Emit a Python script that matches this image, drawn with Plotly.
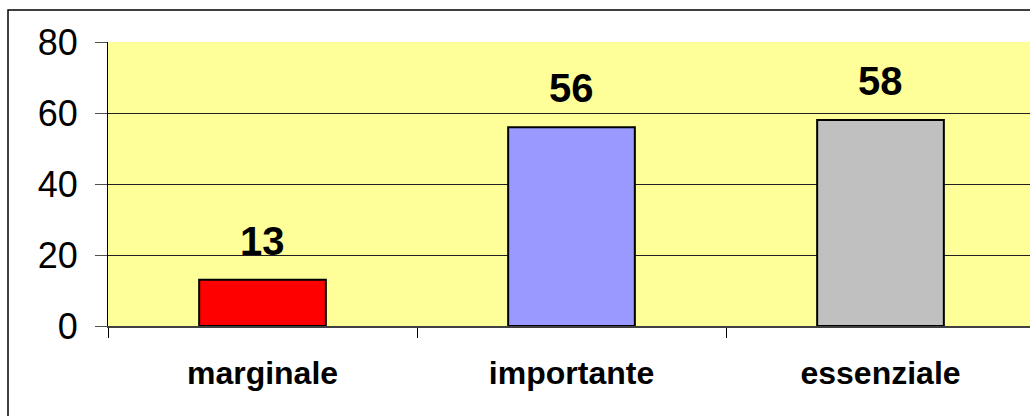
import plotly.graph_objects as go

categories = ["marginale", "importante", "essenziale"]
values = [13, 56, 58]
bar_colors = ["#FF0000", "#9999FF", "#C0C0C0"]
y_ticks = [0, 20, 40, 60, 80]

W, H = 1030, 416
ml, mt = 108, 42
mr = 0
mb = H - 326
pw = W - ml - mr
ph = H - mt - mb

fig = go.Figure()
fig.add_trace(go.Bar(
    x=categories, y=values,
    marker=dict(color=bar_colors, line=dict(color="#000000", width=2)),
    width=0.41, showlegend=False, hoverinfo="skip",
))

for c, v in zip(categories, values):
    fig.add_annotation(x=c, y=v, text=str(v), showarrow=False,
                       yanchor="bottom", yshift=15,
                       font=dict(family="Liberation Sans", size=40, color="#000000", weight="bold"))

# outer chart border
fig.add_shape(type="rect", xref="paper", yref="paper",
              x0=(8 - ml) / pw, x1=1.2,
              y0=-1.0, y1=(H - mb - 10) / ph,
              line=dict(color="#000000", width=1.5), fillcolor="rgba(0,0,0,0)", layer="below")

cat_w = 309.0
fig.update_layout(
    width=W, height=H,
    margin=dict(l=ml, r=mr, t=mt, b=mb, pad=0),
    paper_bgcolor="#FFFFFF", plot_bgcolor="#FFFF99",
    bargap=0.59,
    xaxis=dict(
        type="category", range=[-0.5, -0.5 + pw / cat_w],
        tickson="boundaries", ticks="outside", ticklen=10, tickcolor="#000000", tickwidth=1,
        showline=True, linecolor="#404040", linewidth=2,
        showgrid=False, zeroline=False,
        tickfont=dict(family="Liberation Sans", size=32, color="#000000", weight="bold"),
        ticklabelstandoff=18,
        fixedrange=True,
    ),
    yaxis=dict(
        range=[0, 80], tickvals=y_ticks, ticktext=[str(t) for t in y_ticks],
        ticks="outside", ticklen=12, tickcolor="#505050", tickwidth=1,
        showline=True, linecolor="#000000", linewidth=1,
        showgrid=True, gridcolor="#202020", gridwidth=1,
        zeroline=False,
        tickfont=dict(family="Liberation Sans", size=36, color="#000000"),
        ticklabelstandoff=10,
        fixedrange=True,
    ),
)

fig.write_html(
    "out.html",
    config={"displayModeBar": False},
    post_script="document.documentElement.style.overflow='hidden';"
                "document.body.style.margin='0';document.body.style.overflow='hidden';",
)
